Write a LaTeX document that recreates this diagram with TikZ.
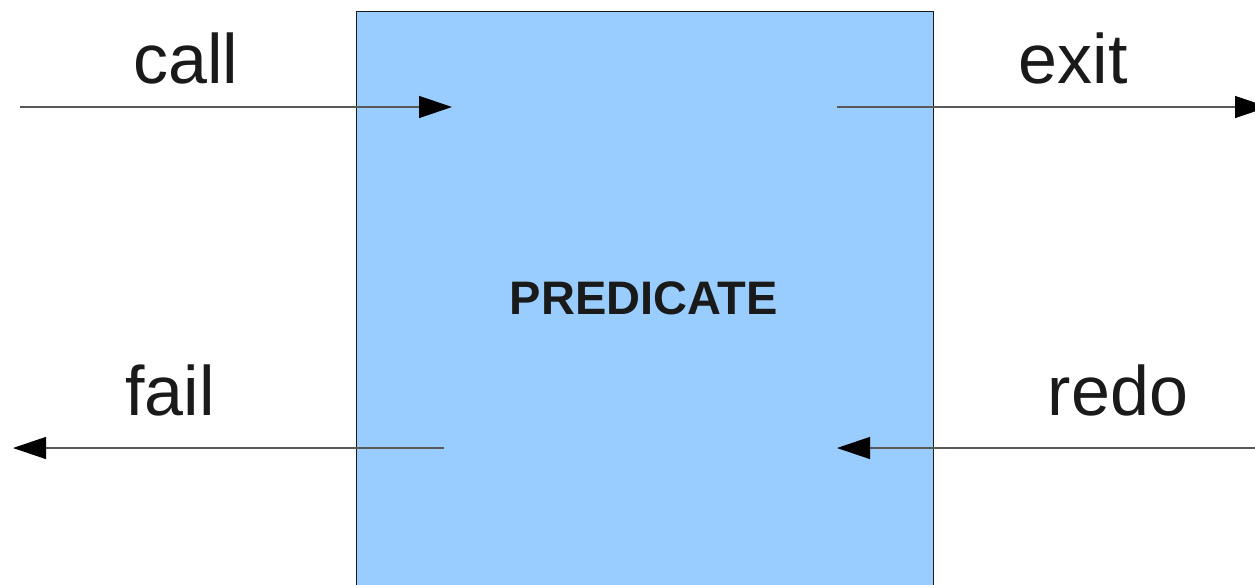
\documentclass[tikz,border=0pt]{standalone}
\usepackage{fontspec}
\setmainfont{Liberation Sans}
\usetikzlibrary{arrows.meta}
\definecolor{boxblue}{HTML}{99CCFF}
\definecolor{ink}{HTML}{1A1A1A}
\tikzset{
	port/.style={anchor=base, text=ink, font=\fontsize{70}{84}\selectfont},
	flow/.style={draw=black!65, line width=1.3pt, -{Triangle[length=33pt,width=22pt,color=black]}},
}
\begin{document}
\begin{tikzpicture}[x=1pt,y=-1pt]
			\useasboundingbox (0,0) rectangle (1255,584);
			\clip (0,0) rectangle (1255,584);
			\node[draw=ink, fill=boxblue, line width=1pt, inner sep=0pt, minimum width=577pt, minimum height=620pt, anchor=north west] (pred) at (356,11) {};
			\node[text=ink, font=\bfseries\fontsize{47}{56}\selectfont] (predname) at (644,298) {PREDICATE};
			\node[port] (call) at (186,83) {call};
			\node[port] (exit) at (1073,83) {exit};
			\node[port] (fail) at (170,415) {fail};
			\node[port] (redo) at (1118,415) {redo};
			\coordinate (callin) at (20,107);
			\coordinate (callend) at (452,107);
			\coordinate (exitstart) at (837,107);
			\coordinate (exitout) at (1268,107);
			\coordinate (failstart) at (444,448);
			\coordinate (failout) at (13,448);
			\coordinate (redoin) at (1268,448);
			\coordinate (redoend) at (837,448);
			\draw[flow] (callin) -- (callend);
			\draw[flow] (exitstart) -- (exitout);
			\draw[flow] (failstart) -- (failout);
			\draw[flow] (redoin) -- (redoend);
		\end{tikzpicture}
\end{document}
